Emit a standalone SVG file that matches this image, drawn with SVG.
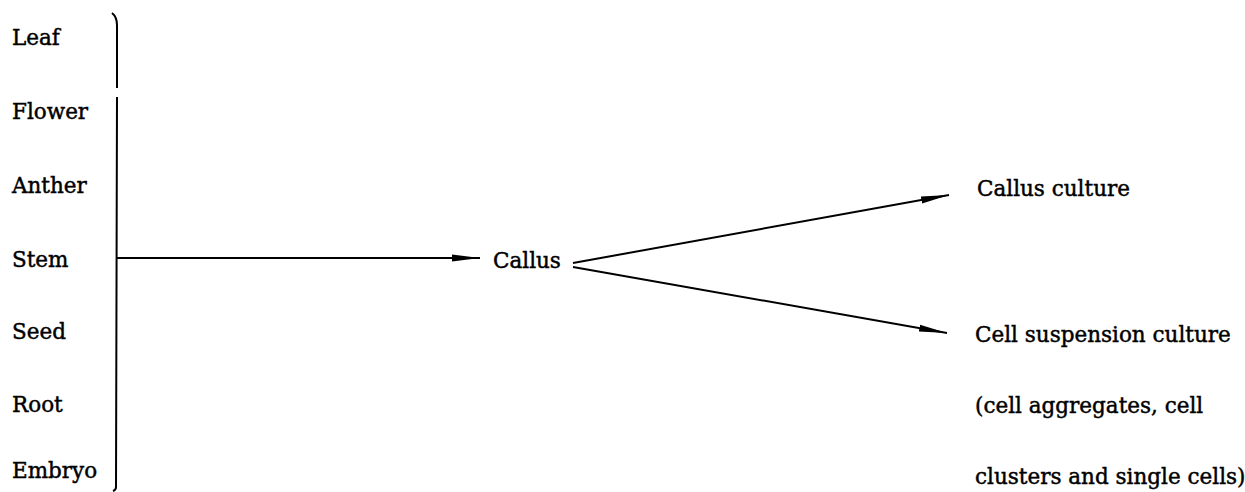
<svg xmlns="http://www.w3.org/2000/svg" width="1245" height="492" viewBox="0 0 1245 492">
<style>
.t{font-family:'DejaVu Serif','Liberation Serif',serif;font-size:21.5px;fill:#000;stroke:#000;stroke-width:0.45;}
.ln{stroke:#000;stroke-width:2;fill:none;}
</style>
<defs>
<marker id="ah" markerUnits="userSpaceOnUse" markerWidth="30" markerHeight="10" refX="28" refY="5" orient="auto">
<path d="M0,1.5 L28,5 L0,8.5 Z" fill="#000"/>
</marker>
</defs>
<rect width="1245" height="492" fill="#fff"/>
<g id="sources">
<g class="t">
<text x="12" y="45">Leaf</text>
<text x="12" y="119">Flower</text>
<text x="12" y="193">Anther</text>
<text x="12" y="267">Stem</text>
<text x="12" y="339">Seed</text>
<text x="12" y="412">Root</text>
<text x="12" y="478">Embryo</text>
</g>
<path class="ln" d="M112,13 Q117,17 117,25 L117,88 M117,97 L116,487 Q116,490 113,491"/>
</g>
<g id="callus" class="t"><text x="493" y="268">Callus</text></g>
<g id="callus-culture" class="t"><text x="977" y="196">Callus culture</text></g>
<g id="suspension" class="t">
<text x="975" y="342">Cell suspension culture</text>
<text x="975" y="413">(cell aggregates, cell</text>
<text x="975" y="484">clusters and single cells)</text>
</g>
<g id="connectors">
<line class="ln" x1="117" y1="258" x2="480" y2="258" marker-end="url(#ah)"/>
<line class="ln" x1="573" y1="263" x2="949" y2="195" marker-end="url(#ah)"/>
<line class="ln" x1="573" y1="267" x2="947" y2="333" marker-end="url(#ah)"/>
</g>
</svg>
